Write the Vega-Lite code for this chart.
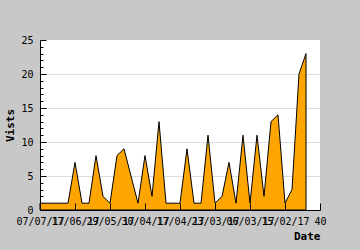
{
  "$schema": "https://vega.github.io/schema/vega-lite/v6.json",
  "width": 280,
  "height": 170,
  "autosize": {"type": "none"},
  "padding": {"left": 40, "top": 40, "right": 40, "bottom": 40},
  "background": "#c8c8c8",
  "view": {"fill": "white", "stroke": null},
  "config": {
    "axis": {
      "labelFont": "DejaVu Sans Mono",
      "labelFontSize": 10,
      "labelColor": "black",
      "titleFont": "DejaVu Sans Mono",
      "titleFontSize": 11,
      "titleFontWeight": "bold",
      "titleColor": "black",
      "domainColor": "black",
      "tickColor": "black"
    }
  },
  "data": {
    "values": [
      {"i": 0, "v": 1}, {"i": 1, "v": 1}, {"i": 2, "v": 1}, {"i": 3, "v": 1}, {"i": 4, "v": 1},
      {"i": 5, "v": 7}, {"i": 6, "v": 1}, {"i": 7, "v": 1}, {"i": 8, "v": 8}, {"i": 9, "v": 2},
      {"i": 10, "v": 1}, {"i": 11, "v": 8}, {"i": 12, "v": 9}, {"i": 13, "v": 5}, {"i": 14, "v": 1},
      {"i": 15, "v": 8}, {"i": 16, "v": 2}, {"i": 17, "v": 13}, {"i": 18, "v": 1}, {"i": 19, "v": 1},
      {"i": 20, "v": 1}, {"i": 21, "v": 9}, {"i": 22, "v": 1}, {"i": 23, "v": 1}, {"i": 24, "v": 11},
      {"i": 25, "v": 1}, {"i": 26, "v": 2}, {"i": 27, "v": 7}, {"i": 28, "v": 1}, {"i": 29, "v": 11},
      {"i": 30, "v": 1}, {"i": 31, "v": 11}, {"i": 32, "v": 2}, {"i": 33, "v": 13}, {"i": 34, "v": 14},
      {"i": 35, "v": 1}, {"i": 36, "v": 3}, {"i": 37, "v": 20}, {"i": 38, "v": 23}
    ]
  },
  "mark": {"type": "area", "fill": "#FFA500", "fillOpacity": 1, "stroke": "black", "strokeWidth": 1, "interpolate": "linear"},
  "encoding": {
    "x": {
      "field": "i",
      "type": "quantitative",
      "scale": {"domain": [0, 40], "nice": false, "zero": false},
      "axis": {
        "values": [0, 5, 10, 15, 20, 25, 30, 35, 40],
        "labelExpr": "['07/07/17','17/06/17','29/05/17','30/04/17','17/04/17','23/03/17','06/03/17','15/02/17','40'][datum.value/5]",
        "labelOverlap": false,
        "labelFlush": false,
        "labelBound": false,
        "grid": false,
        "zindex": 1,
        "tickSize": -7,
        "labelPadding": 13,
        "title": "Date",
        "titleAnchor": "end",
        "titleAlign": "right",
        "titleX": 280,
        "titleY": 26,
        "titleBaseline": "middle"
      }
    },
    "y": {
      "field": "v",
      "type": "quantitative",
      "scale": {"domain": [0, 25], "nice": false},
      "axis": {
        "values": [0,1,2,3,4,5,6,7,8,9,10,11,12,13,14,15,16,17,18,19,20,21,22,23,24,25],
        "labelExpr": "datum.value % 5 == 0 ? datum.label : ''",
        "labelOverlap": false,
        "labelFlush": false,
        "labelBound": false,
        "labelPadding": 13,
        "grid": true,
        "gridColor": {"condition": {"test": "datum.value % 5 == 0 && datum.value > 0 && datum.value < 25", "value": "#dcdcdc"}, "value": "transparent"},
        "tickSize": {"condition": {"test": "datum.value % 5 == 0", "value": -6}, "value": -3},
        "title": "Vists",
        "titleX": -30,
        "titleY": 85,
        "titleAlign": "center",
        "titleBaseline": "middle"
      }
    }
  }
}
